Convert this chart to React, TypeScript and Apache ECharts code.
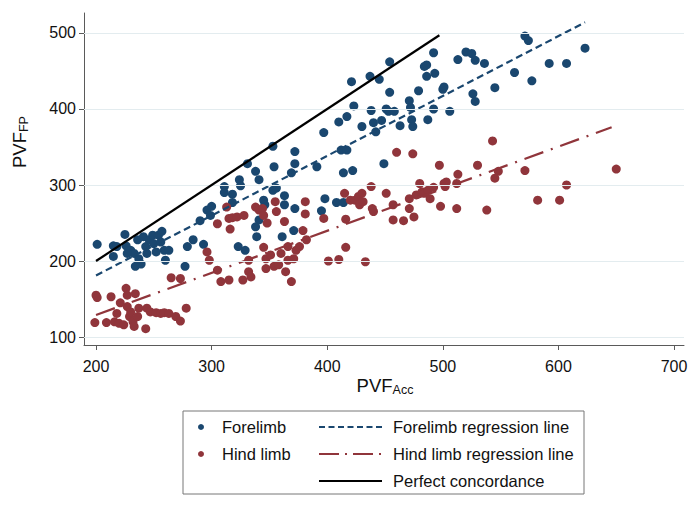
import React, { useEffect, useRef } from "react";
import * as echarts from "echarts";

const xTicks = [200, 300, 400, 500, 600, 700];
const yTicks = [100, 200, 300, 400, 500];

const forelimb: [number, number][] = [
  [201, 222], [215, 220], [215, 206], [225, 235], [226, 220], [230, 214], [233, 210], [234, 193], [236, 228], [237, 203],
  [239, 196], [241, 232], [243, 219], [244, 210], [246, 228], [249, 234], [250, 223], [252, 212], [254, 234], [257, 239],
  [256, 225], [259, 214], [260, 201], [263, 214], [227, 210], [218, 219], [277, 193], [279, 219], [284, 228], [293, 222],
  [290, 253], [296, 267], [300, 272], [299, 260], [311, 298], [311, 290], [318, 288], [318, 277], [324, 307], [325, 299],
  [331, 328], [338, 318], [341, 307], [353, 351], [354, 324], [353, 293], [356, 296], [345, 280], [346, 274], [341, 254],
  [338, 245], [339, 232], [361, 232], [323, 219], [329, 214], [363, 274], [363, 286],
  [372, 344], [372, 328], [369, 316], [372, 269], [371, 240], [395, 266], [391, 324], [397, 369], [398, 282], [408, 277],
  [410, 383], [412, 346], [414, 316], [417, 390], [417, 346], [422, 319], [421, 436], [414, 277], [423, 404], [430, 377],
  [437, 443], [438, 398], [440, 382], [442, 370], [445, 439], [447, 385], [449, 328], [451, 400], [454, 462], [454, 422],
  [453, 397], [458, 397], [463, 378], [471, 411], [472, 402], [473, 386], [474, 377], [479, 424], [484, 456], [486, 458],
  [486, 443], [487, 386], [492, 400], [493, 447], [492, 474], [500, 426], [501, 429], [506, 397], [513, 465], [520, 475],
  [525, 473], [528, 464], [526, 420], [528, 410], [536, 460],
  [545, 428], [562, 448], [571, 496], [574, 490], [577, 437], [592, 460], [607, 460], [623, 480],
];

const hindlimb: [number, number][] = [
  [200, 155], [201, 152], [199, 119], [209, 119], [213, 153], [216, 120], [218, 131], [220, 118], [221, 145], [224, 116],
  [226, 164], [227, 155], [227, 140], [229, 127], [230, 133], [232, 120], [233, 114], [234, 157], [236, 127], [237, 138],
  [243, 111], [244, 138], [247, 133], [252, 132], [256, 131], [259, 132], [263, 131], [269, 127], [273, 121], [278, 138],
  [265, 178], [273, 177], [296, 212], [298, 201], [305, 249], [305, 188], [308, 173], [315, 175], [315, 256], [316, 242],
  [313, 271], [318, 257], [322, 258], [328, 260], [327, 175], [332, 186], [332, 201], [334, 179], [338, 271], [341, 267],
  [344, 269], [345, 260], [348, 250], [345, 218], [347, 203], [347, 190], [351, 208], [355, 278], [356, 265], [354, 193],
  [358, 195], [360, 210], [363, 252], [364, 186], [366, 219], [366, 201],
  [369, 173], [381, 278], [381, 262], [379, 240], [382, 228], [373, 214], [371, 203], [376, 219], [397, 256], [401, 200],
  [410, 202], [415, 289], [416, 255], [416, 218], [420, 280], [424, 280], [427, 285], [428, 274], [430, 289], [431, 278],
  [433, 199], [438, 298], [440, 265], [439, 269], [451, 289], [457, 274], [457, 254], [460, 343], [466, 253], [471, 269],
  [471, 282], [475, 258], [474, 341], [477, 287], [480, 302], [482, 291], [484, 289], [487, 293], [489, 282], [492, 297],
  [497, 326], [498, 272], [501, 302], [502, 298], [503, 304], [512, 269], [513, 314], [512, 302], [530, 326], [538, 267],
  [543, 358], [548, 318], [545, 309], [571, 319], [582, 280], [601, 280], [607, 300], [650, 321],
];

const forelimbFit: [number, number][] = [[200, 181], [623, 514]];
const hindlimbFit: [number, number][] = [[200, 129], [646, 376]];
const perfectLine: [number, number][] = [[200, 200], [497, 497]];

const legendLabels = [
  "Forelimb",
  "Hind limb",
  "Forelimb regression line",
  "Hind limb regression line",
  "Perfect concordance",
];

const BLUE = "#1a476f";
const RED = "#90353b";
const FONT = "'Liberation Sans', Arial, Helvetica, sans-serif";
const AXIS = "#5a5a5a";
const GRID = "#e3ecef";
const LEGEND_FS = 16.5;

export default function App() {
  const ref = useRef<HTMLDivElement>(null);

  useEffect(() => {
    if (!ref.current) return;
    const chart = echarts.init(ref.current, null, { renderer: "svg" });

    const titleRich = {
      a: { fontSize: 18.5, fontFamily: FONT, fill: "#111", lineHeight: 22 },
      b: { fontSize: 12.5, fontFamily: FONT, fill: "#111", lineHeight: 12, verticalAlign: "bottom" },
    };

    const legendX0 = 319;
    const legendX1 = 382;
    const rowY = [427, 454, 481];

    const legendText = (x: number, y: number, text: string) => ({
      type: "text",
      x,
      y,
      style: { text, fontSize: LEGEND_FS, fontFamily: FONT, fill: "#111", verticalAlign: "middle" },
    });

    const option: any = {
      animation: false,
      backgroundColor: "#ffffff",
      grid: { left: 84, right: 16, top: 13, bottom: 162, containLabel: false },
      xAxis: {
        type: "value",
        min: 189.6,
        max: 708.6,
        axisLine: { show: true, onZero: false, lineStyle: { color: AXIS, width: 1 } },
        axisTick: { show: true, length: 5, customValues: xTicks, lineStyle: { color: AXIS } },
        axisLabel: { customValues: xTicks, fontSize: 16, color: "#111", fontFamily: FONT, margin: 13 },
        splitLine: { show: false },
      },
      yAxis: {
        type: "value",
        min: 89.5,
        max: 526.3,
        axisLine: { show: true, onZero: false, lineStyle: { color: AXIS, width: 1 } },
        axisTick: { show: true, length: 5, customValues: yTicks, lineStyle: { color: AXIS } },
        axisLabel: { customValues: yTicks, fontSize: 16, color: "#111", fontFamily: FONT, margin: 8 },
        splitLine: { show: false },
      },
      series: [
        {
          type: "line",
          data: [],
          z: 1,
          silent: true,
          markLine: {
            silent: true,
            symbol: ["none", "none"],
            label: { show: false },
            lineStyle: { color: GRID, width: 1, type: "solid" },
            data: yTicks.map((v) => ({ yAxis: v })),
          },
        },
        {
          name: "Forelimb",
          type: "scatter",
          data: forelimb,
          symbolSize: 9,
          itemStyle: { color: BLUE, opacity: 1 },
          z: 2,
        },
        {
          name: "Hind limb",
          type: "scatter",
          data: hindlimb,
          symbolSize: 9,
          itemStyle: { color: RED, opacity: 1 },
          z: 3,
        },
        {
          name: "Forelimb regression line",
          type: "line",
          data: forelimbFit,
          showSymbol: false,
          lineStyle: { color: BLUE, width: 2.2, type: [7, 4] },
          z: 4,
        },
        {
          name: "Hind limb regression line",
          type: "line",
          data: hindlimbFit,
          showSymbol: false,
          lineStyle: { color: RED, width: 2.2, type: [20, 8, 2, 8] },
          z: 4,
        },
        {
          name: "Perfect concordance",
          type: "line",
          data: perfectLine,
          showSymbol: false,
          lineStyle: { color: "#000000", width: 2.2, type: "solid" },
          z: 5,
        },
      ],
      graphic: [
        {
          type: "text",
          x: 385,
          y: 385,
          style: {
            text: "{a|PVF}{b|Acc}",
            rich: titleRich,
            align: "center",
            verticalAlign: "middle",
          },
        },
        {
          type: "text",
          x: 19,
          y: 142,
          rotation: Math.PI / 2,
          style: {
            text: "{a|PVF}{b|FP}",
            rich: titleRich,
            align: "center",
            verticalAlign: "middle",
          },
        },
        {
          type: "rect",
          shape: { x: 183, y: 411, width: 401, height: 83 },
          style: { fill: "#ffffff", stroke: "#777777", lineWidth: 1 },
        },
        { type: "circle", shape: { cx: 201, cy: rowY[0], r: 3 }, style: { fill: BLUE } },
        { type: "circle", shape: { cx: 201, cy: rowY[1], r: 3 }, style: { fill: RED } },
        legendText(222, rowY[0], legendLabels[0]),
        legendText(222, rowY[1], legendLabels[1]),
        {
          type: "line",
          shape: { x1: legendX0, y1: rowY[0], x2: legendX1, y2: rowY[0] },
          style: { stroke: BLUE, lineWidth: 2, lineDash: [6, 3.5] },
        },
        {
          type: "line",
          shape: { x1: legendX0, y1: rowY[1], x2: legendX1, y2: rowY[1] },
          style: { stroke: RED, lineWidth: 2, lineDash: [20, 6, 2, 6] },
        },
        {
          type: "line",
          shape: { x1: legendX0, y1: rowY[2], x2: legendX1, y2: rowY[2] },
          style: { stroke: "#000000", lineWidth: 2 },
        },
        legendText(393, rowY[0], legendLabels[2]),
        legendText(393, rowY[1], legendLabels[3]),
        legendText(393, rowY[2], legendLabels[4]),
      ],
    };

    chart.setOption(option);
    return () => chart.dispose();
  }, []);

  return <div ref={ref} style={{ width: 700, height: 507, position: "absolute", left: 0, top: 0 }} />;
}
